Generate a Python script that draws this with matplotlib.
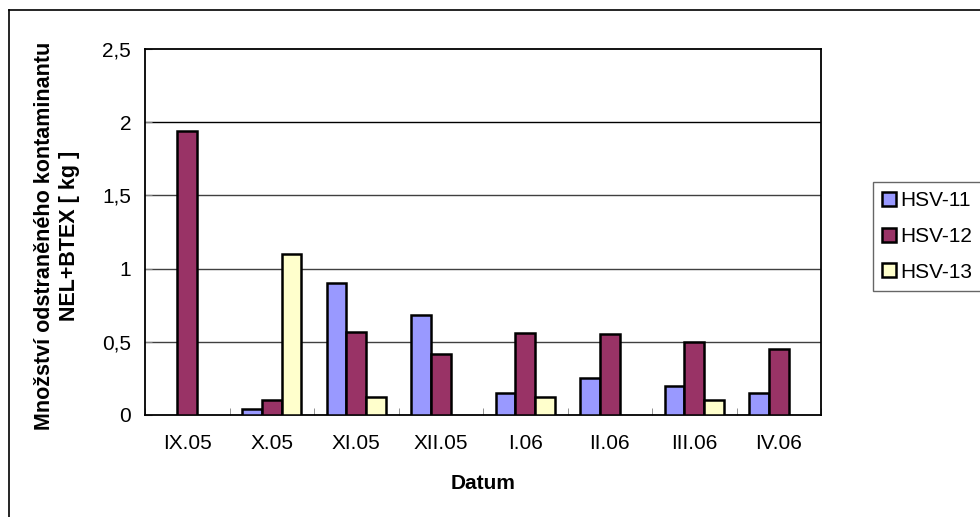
import matplotlib
matplotlib.use("Agg")
import matplotlib.pyplot as plt
from matplotlib.lines import Line2D
import numpy as np

plt.rcParams['font.family'] = ['Liberation Sans', 'DejaVu Sans']

months = ["IX.05", "X.05", "XI.05", "XII.05", "I.06", "II.06", "III.06", "IV.06"]
hsv_11 = [0.0, 0.04, 0.90, 0.68, 0.15, 0.25, 0.20, 0.15]
hsv_12 = [1.94, 0.10, 0.57, 0.42, 0.56, 0.55, 0.50, 0.45]
hsv_13 = [0.0, 1.10, 0.12, 0.0, 0.12, 0.0, 0.10, 0.0]
series_names = ["HSV-11", "HSV-12", "HSV-13"]
series_colors = ["#9999FF", "#993366", "#FFFFCC"]
y_ticks = [0, 0.5, 1, 1.5, 2, 2.5]
y_tick_labels = ["0", "0,5", "1", "1,5", "2", "2,5"]

fig = plt.figure(figsize=(9.8, 5.17), dpi=100)
ax = fig.add_axes([145 / 980, 102 / 517, 676 / 980, 366 / 517])

x = np.arange(len(months))
w = 0.232
for i, (vals, name, col) in enumerate(zip([hsv_11, hsv_12, hsv_13], series_names, series_colors)):
    # zero values are not drawn (empty cells in the source)
    heights = np.where(np.array(vals) == 0, np.nan, vals)
    ax.bar(x + (i - 1) * w, heights, width=w, color=col, edgecolor="black",
           linewidth=1.8, label=name, zorder=3)

ax.set_xlim(-0.5, len(months) - 0.5)
ax.set_ylim(0, 2.5)
ax.set_yticks(y_ticks)
ax.set_yticklabels(y_tick_labels)
ax.set_xticks(x)
ax.set_xticklabels(months)
ax.set_xticks(np.arange(len(months) + 1) - 0.5, minor=True)
ax.tick_params(axis="x", which="major", length=0, pad=14, labelsize=15)
ax.tick_params(axis="x", which="minor", direction="in", length=5, color="#808080")
ax.tick_params(axis="y", direction="in", length=5, pad=10, labelsize=15, color="#808080")

for yv in y_ticks[1:-1]:
    ax.axhline(yv, color="#404040" if yv < 2 else "black", linewidth=1, zorder=1)
for s in ax.spines.values():
    s.set_linewidth(1.3)

ax.set_xlabel("Datum", fontsize=15, fontweight="bold", labelpad=15)
fig.text(57 / 980, 1 - 236 / 517, "Množství odstraněného kontaminantu\nNEL+BTEX [ kg ]",
         rotation=90, ha="center", va="center", fontsize=15.5, fontweight="bold",
         linespacing=1.2)

leg = fig.legend(loc="upper left", bbox_to_anchor=(873 / 980, 1 - 182 / 517),
                 fontsize=15, frameon=True, fancybox=False, handlelength=0.65,
                 handleheight=0.65, handletextpad=0.2, labelspacing=0.8,
                 borderpad=0.45, borderaxespad=0)
leg.get_frame().set_edgecolor("#404040")
leg.get_frame().set_linewidth(1)
for h in leg.legend_handles:
    h.set_linewidth(1.8)

# outer chart frame
fig.add_artist(Line2D([9 / 980, 9 / 980], [0, 1 - 10 / 517], color="black", linewidth=1.2))
fig.add_artist(Line2D([9 / 980, 1], [1 - 10 / 517, 1 - 10 / 517], color="black", linewidth=1.2))

fig.savefig("out.png", dpi=100)
